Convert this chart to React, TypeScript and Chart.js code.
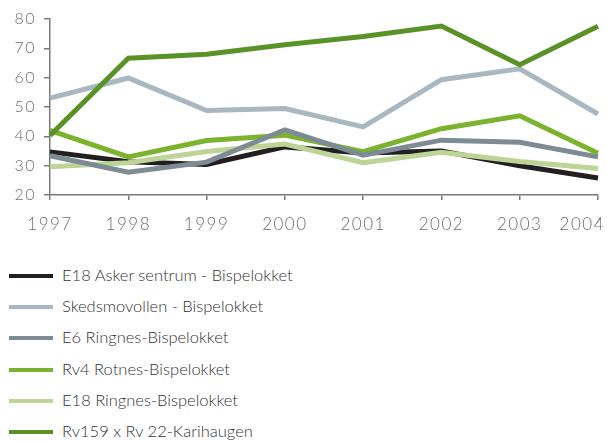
import React, { useEffect, useRef } from 'react';
import { Chart, registerables } from 'chart.js';

Chart.register(...registerables);

const years = ['1997', '1998', '1999', '2000', '2001', '2002', '2003', '2004'];

const seriesNames = [
  'E18 Asker sentrum - Bispelokket',
  'Skedsmovollen - Bispelokket',
  'E6 Ringnes-Bispelokket',
  'Rv4 Rotnes-Bispelokket',
  'E18 Ringnes-Bispelokket',
  'Rv159 x Rv 22-Karihaugen',
];

const e18Asker = [34.7, 31.3, 30.4, 36.4, 34.3, 35.0, 30.0, 25.8];
const skedsmovollen = [53.0, 59.9, 48.8, 49.5, 43.2, 59.3, 63.0, 47.6];
const e6Ringnes = [33.4, 27.8, 31.2, 42.2, 33.6, 38.7, 38.0, 33.0];
const rv4Rotnes = [42.0, 33.0, 38.6, 40.4, 34.8, 42.6, 47.0, 34.2];
const e18Ringnes = [29.6, 31.0, 34.8, 37.4, 31.0, 34.6, 31.4, 29.0];
const rv159 = [40.3, 66.6, 68.0, 71.2, 74.0, 77.6, 64.4, 77.5];

const seriesValues = [e18Asker, skedsmovollen, e6Ringnes, rv4Rotnes, e18Ringnes, rv159];
const seriesColors = ['#231f20', '#a8b7c0', '#7d8b94', '#7bb32e', '#bcd596', '#5b9228'];
const drawOrder = [5, 3, 0, 2, 4, 1];

const yMin = 20;
const yMax = 80;
const yStep = 10;

const axisColor = '#7a7a7a';
const tickColor = '#6d6e71';
const fontFamily = '"Lato", "Open Sans", sans-serif';

const labelPlugin = {
  id: 'labelTweaks',
  beforeDraw(chart: any) {
    chart.ctx.letterSpacing = '1.5px';
    const s = chart.scales.x;
    const items = s.getLabelItems(chart.chartArea);
    if (items && items.length) {
      const last = items[items.length - 1];
      last.options.translation[0] = chart.width - 2;
      last.options.textAlign = 'right';
    }
  },
};

export default function App() {
  const ref = useRef<HTMLCanvasElement>(null);

  useEffect(() => {
    document.body.style.margin = '0';
    const chart = new Chart(ref.current!, {
      type: 'line',
      data: {
        labels: years,
        datasets: seriesNames.map((name, i) => ({
          label: name,
          data: seriesValues[i],
          borderColor: seriesColors[i],
          backgroundColor: seriesColors[i],
          borderWidth: 5,
          pointRadius: 0,
          tension: 0,
          order: drawOrder[i],
          borderJoinStyle: 'miter' as const,
        })),
      },
      options: {
        animation: false,
        responsive: false,
        maintainAspectRatio: false,
        layout: { padding: { top: 19, right: 9, left: 0, bottom: 0 } },
        plugins: { legend: { display: false }, tooltip: { enabled: false } },
        scales: {
          x: {
            offset: false,
            grid: {
              display: true,
              drawOnChartArea: false,
              drawTicks: true,
              tickLength: 5,
              color: axisColor,
              lineWidth: 1.5,
            },
            border: { display: true, color: axisColor, width: 1.5 },
            ticks: {
              color: tickColor,
              font: { family: fontFamily, size: 17, weight: 300 as any },
              padding: 14,
              maxRotation: 0,
              autoSkip: false,
            },
            afterFit: (s: any) => {
              s.height = 55;
              s.paddingLeft = 0;
              s.paddingRight = 0;
            },
          },
          y: {
            min: yMin,
            max: yMax,
            grid: {
              display: true,
              drawOnChartArea: false,
              drawTicks: true,
              tickLength: 6,
              color: axisColor,
              lineWidth: 1.5,
            },
            border: { display: true, color: axisColor, width: 1.5 },
            ticks: {
              stepSize: yStep,
              color: tickColor,
              font: { family: fontFamily, size: 16, weight: 300 as any },
              padding: 8,
            },
            afterFit: (s: any) => {
              s.width = 50;
              s.paddingTop = 0;
              s.paddingBottom = 0;
            },
          },
        },
      },
      plugins: [labelPlugin],
    });
    return () => chart.destroy();
  }, []);

  return (
    <div style={{ position: 'relative', width: 607, height: 441, background: '#fff' }}>
      <canvas ref={ref} width={607} height={250} style={{ display: 'block' }} />
      <div style={{ position: 'absolute', left: 0, top: 260, width: 607 }}>
        {seriesNames.map((name, i) => (
          <div
            key={name}
            style={{
              position: 'relative',
              height: 31.2,
            }}
          >
            <div
              style={{
                position: 'absolute',
                left: 9,
                width: 44,
                height: 4,
                top: 14,
                background: seriesColors[i],
              }}
            />
            <span
              style={{
                position: 'absolute',
                left: 62,
                top: 4,
                fontFamily,
                fontWeight: 300,
                fontSize: 16.5,
                lineHeight: '22px',
                color: '#333',
                whiteSpace: 'nowrap',
              }}
            >
              {name}
            </span>
          </div>
        ))}
      </div>
    </div>
  );
}
